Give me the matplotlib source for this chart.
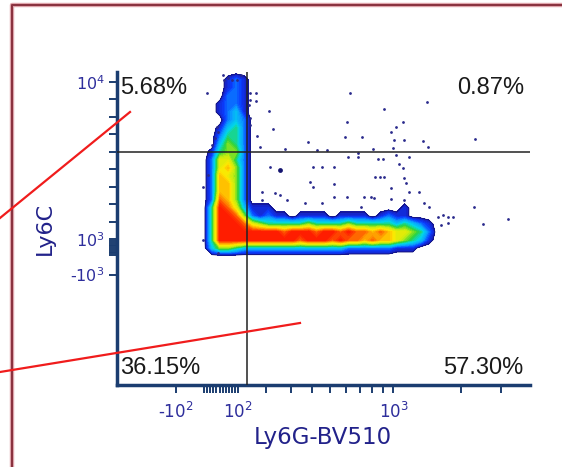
import matplotlib
matplotlib.use('Agg')
import matplotlib.pyplot as plt
import numpy as np
from matplotlib.colors import LinearSegmentedColormap, Normalize
from matplotlib.lines import Line2D

# Ly6G / Ly6C values of the sparse events outside the dense population
event_ly6g = [51, 55, 68, 81, 97, 111, 0, 142, 163, 142, 163, 138, 211, 142, 142, 227,
              167, 32, 35, 26, 16, 178, 276, 381, 630, 903, 1412, 609, 972, 1102, 1024,
              712, 590, 1003, 1113, 1355, 1426, 2299, 427, 483, 681, 802, 992, 681, 616,
              854, 893, 1024, 1173, 215, 406, 455, 519, 1057, 1102, 827, 872, 903, 391,
              406, 519, 1113, 1137, 972, 1173, 728, 785, 810, 609, 519, 455, 366, 284,
              235, 255, 185, 185, 704, 972, 1113, 1300, 1369, 1441, 2276, 1580, 1662,
              1749, 1840, 2493, 1749, 1629, 3206, -13, -13, 35, 3]
event_ly6c = [10400, 10110, 10230, 10110, 10110, 10400, 9370, 9370, 9370, 8970, 8910,
              8690, 8340, 7940, 7540, 7310, 6910, 7430, 7140, 6800, 6400, 6290, 6170,
              6570, 9370, 8460, 8860, 7710, 7140, 7710, 7430, 6860, 6860, 6690, 6690,
              6630, 6290, 6740, 6110, 6110, 5950, 6170, 6230, 5710, 5710, 5600, 5600,
              5830, 5710, 5140, 5140, 5140, 5140, 5310, 5090, 4570, 4570, 4570, 4290,
              4000, 4170, 4510, 4230, 3940, 3710, 3430, 3430, 3370, 3430, 3430, 3090,
              3090, 3260, 3660, 3540, 3710, 3260, 2860, 3310, 3260, 3710, 3090, 2860,
              2860, 2290, 2400, 2290, 2290, 1890, 1940, 1830, 2170, 4000, 970, 230, 4690]
# one brighter event sitting just above the Ly6G+ band
big_event_ly6g = [255]
big_event_ly6c = [4970]

# pseudocolor density level per grid cell, 0 = no events .. 9 = densest
density_rows = [
    "00000000000000000000000000000000",
    "00000000000000000000000000000000",
    "00001210000000000000000000000000",
    "00001210000000000000000000000000",
    "00002210000000000000000000000000",
    "00012210000000000000000000000000",
    "00012310000000000000000000000000",
    "00002320000000000000000000000000",
    "00013420000000000000000000000000",
    "00024420000000000000000000000000",
    "00035420000000000000000000000000",
    "00145520000000000000000000000000",
    "00266420000000000000000000000000",
    "00267520000000000000000000000000",
    "00276520000000000000000000000000",
    "00277520000000000000000000000000",
    "00277520000000000000000000000000",
    "00287520000000000000000000000000",
    "00498631110000000000000000100000",
    "00499852121101111011110121100000",
    "00499986544444544445444443432100",
    "00499999999899989989887876654200",
    "00499999999998999898878776543100",
    "00355433333333333332222221110000",
    "00000000000000000000000000000000",
    "00000000000000000000000000000000",
]

quadrant_labels = ['5.68%', '0.87%', '36.15%', '57.30%']
ly6g_gate = 131
ly6c_gate = 6000

LW = 320  # linear width of the asinh display on Ly6G

# grid cells are evenly spaced on the displayed axes
grid_ly6g = LW * np.sinh(np.linspace(-0.11, 2.37, len(density_rows[0])))
grid_ly6c = np.linspace(11030, -400, len(density_rows))
density = np.array([[int(ch) for ch in row] for row in density_rows], dtype=float)

pseudo = LinearSegmentedColormap.from_list('pseudo', [
    (0.0, '#1a1ab4'), (1 / 9, '#0a3cff'), (2 / 9, '#0aa0ff'), (3 / 9, '#00d8e8'),
    (4 / 9, '#2ed23a'), (5 / 9, '#c4ee10'), (6 / 9, '#ffe800'), (7 / 9, '#ff9a00'),
    (8 / 9, '#ff3a00'), (1.0, '#ff0000')])

axis_blue = '#1b3d70'
tick_blue = '#2e2e9c'
label_blue = '#22228a'

fig = plt.figure(figsize=(5.62, 4.67), dpi=100)
ax = fig.add_axes([117 / 562, 82 / 467, 413 / 562, 313 / 467])
ax.set_xscale('asinh', linear_width=LW)
ax.set_xlim(-327, 3990)
ax.set_ylim(-7314, 10571)

ax.contourf(grid_ly6g, grid_ly6c, density, levels=np.linspace(0.5, 9.5, 46),
            cmap=pseudo, norm=Normalize(0.5, 9.5), zorder=2)
ax.contour(grid_ly6g, grid_ly6c, density, levels=[0.5], colors='#14147a',
           linewidths=0.6, zorder=2)
ax.scatter(event_ly6g, event_ly6c, s=4, color='#2a2a8c', linewidths=0, zorder=3)
ax.scatter(big_event_ly6g, big_event_ly6c, s=12, color='#141470', linewidths=0, zorder=3)

# quadrant gates
ax.axvline(ly6g_gate, color='#222222', lw=1.1, zorder=4)
ax.axhline(ly6c_gate, color='#222222', lw=1.1, zorder=4)

qfont = dict(family='Liberation Sans', size=17, color='#1a1a1a', va='center')
ax.text(0.008, 0.949, quadrant_labels[0], transform=ax.transAxes, ha='left', **qfont)
ax.text(0.985, 0.949, quadrant_labels[1], transform=ax.transAxes, ha='right', **qfont)
ax.text(0.008, 0.054, quadrant_labels[2], transform=ax.transAxes, ha='left', **qfont)
ax.text(0.985, 0.054, quadrant_labels[3], transform=ax.transAxes, ha='right', **qfont)

for side in ['top', 'right']:
    ax.spines[side].set_visible(False)
for side in ['left', 'bottom']:
    ax.spines[side].set_color(axis_blue)
    ax.spines[side].set_linewidth(2.5)

ax.set_xticks([-100, 100, 1000], labels=['-$10^2$', '$10^2$', '$10^3$'])
ax.set_xticks(list(range(-10, 100, 10)) + list(range(200, 1000, 100)) + [2000, 3000],
              minor=True)
ax.set_yticks([-1000, 1000, 10000], labels=['-$10^3$', '$10^3$', '$10^4$'])
ax.set_yticks(list(range(100, 1000, 100)) + list(range(2000, 10000, 1000)), minor=True)
ax.tick_params(axis='x', which='both', direction='out', length=6, width=1.4,
               color=axis_blue, labelcolor=tick_blue, labelsize=12, pad=6)
ax.tick_params(axis='y', which='both', direction='out', length=6, width=1.4,
               color=axis_blue, labelcolor=tick_blue, labelsize=11.5, pad=3)

ax.set_xlabel('Ly6G-BV510', fontsize=16.5, color=label_blue)
ax.xaxis.set_label_coords(0.499, -0.132)
ax.set_ylabel('Ly6C', fontsize=16, color=label_blue)
ax.yaxis.set_label_coords(-0.15, 0.50)

# slide frame and the red pointer lines over the panel
fig.add_artist(Line2D([12 / 562, 12 / 562, 1.0], [0.0, 1 - 5 / 467, 1 - 5 / 467],
                      transform=fig.transFigure, color='#e2aab0', lw=3.2))
fig.add_artist(Line2D([12 / 562, 12 / 562, 1.0], [0.0, 1 - 5 / 467, 1 - 5 / 467],
                      transform=fig.transFigure, color='#8a3340', lw=1.5))
fig.add_artist(Line2D([0.0, 130 / 562], [1 - 218 / 467, 1 - 112 / 467],
                      transform=fig.transFigure, color='#f01c1c', lw=1.6, zorder=10))
fig.add_artist(Line2D([0.0, 300 / 562], [1 - 372 / 467, 1 - 323 / 467],
                      transform=fig.transFigure, color='#f01c1c', lw=1.6, zorder=10))

fig.savefig('out.png', dpi=100)
